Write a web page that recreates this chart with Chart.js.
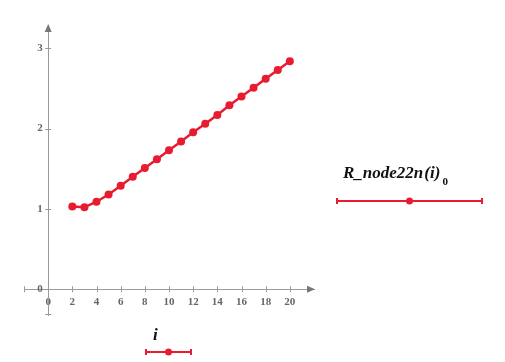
<!DOCTYPE html>
<html>
<head>
<meta charset="utf-8">
<script src="https://cdn.jsdelivr.net/npm/chart.js@4.4.0/dist/chart.umd.min.js"></script>
<style>
  body { margin: 0; background: #fff; }
  #wrap { position: relative; width: 505px; height: 362px; }
  .lbl { position: absolute; font-family: "Liberation Serif", serif; font-weight: bold; font-style: italic; color: #111; white-space: nowrap; }
  .sub { font-size: 11px; font-style: normal; position: relative; top: 7px; margin-left: 2px; }
</style>
</head>
<body>
<div id="wrap">
  <canvas id="myChart" width="505" height="362"></canvas>
  <div class="lbl" style="left:343px; top:163px; font-size:17px;">R_node22n<span style="margin-left:1px;">(</span>i<span>)</span><span class="sub">0</span></div>
  <div class="lbl" style="left:153px; top:325px; font-size:17px;">i</div>
</div>
<script>
// data
const iValues = [2, 3, 4, 5, 6, 7, 8, 9, 10, 11, 12, 13, 14, 15, 16, 17, 18, 19, 20];
const rNode = [1.03, 1.02, 1.09, 1.18, 1.29, 1.40, 1.51, 1.62, 1.73, 1.84, 1.955, 2.06, 2.17, 2.29, 2.40, 2.51, 2.62, 2.73, 2.84];
const xTicks = [0, 2, 4, 6, 8, 10, 12, 14, 16, 18, 20];
const yTicks = [0, 1, 2, 3];

const red = 'rgb(232, 28, 48)';
const axisGray = '#9a9a9a';

// arrows, end caps and crossing tick marks of the axes, plus the legend samples
const axisExtras = {
  id: 'axisExtras',
  afterDraw(chart) {
    const c = chart.ctx;
    const xs = chart.scales.x, ys = chart.scales.y;
    const x0 = xs.getPixelForValue(0), y0 = ys.getPixelForValue(0);
    const area = chart.chartArea;
    c.save();
    c.fillStyle = '#777';
    // x arrow
    c.beginPath();
    c.moveTo(area.right + 1, y0);
    c.lineTo(area.right - 7, y0 - 3.5);
    c.lineTo(area.right - 7, y0 + 3.5);
    c.closePath();
    c.fill();
    // y arrow
    c.beginPath();
    c.moveTo(x0, area.top - 1);
    c.lineTo(x0 - 3.5, area.top + 7);
    c.lineTo(x0 + 3.5, area.top + 7);
    c.closePath();
    c.fill();
    // end caps and ticks
    c.strokeStyle = axisGray;
    c.lineWidth = 1;
    c.beginPath();
    c.moveTo(area.left + 0.5, y0 - 3);
    c.lineTo(area.left + 0.5, y0 + 3);
    c.moveTo(x0 - 3, area.bottom - 0.5);
    c.lineTo(x0 + 3, area.bottom - 0.5);
    xTicks.forEach(v => {
      const px = Math.round(xs.getPixelForValue(v)) + 0.5;
      c.moveTo(px, y0 - 3);
      c.lineTo(px, y0 + 3);
    });
    yTicks.forEach(v => {
      const py = Math.round(ys.getPixelForValue(v)) + 0.5;
      c.moveTo(x0 - 3, py);
      c.lineTo(x0 + 3, py);
    });
    c.stroke();

    // legend samples
    function sample(x1, x2, y) {
      c.strokeStyle = red;
      c.fillStyle = red;
      c.lineWidth = 2;
      c.beginPath();
      c.moveTo(x1, y);
      c.lineTo(x2, y);
      c.moveTo(x1, y - 3);
      c.lineTo(x1, y + 3);
      c.moveTo(x2, y - 3);
      c.lineTo(x2, y + 3);
      c.stroke();
      c.beginPath();
      c.arc((x1 + x2) / 2, y, 3.5, 0, Math.PI * 2);
      c.fill();
    }
    sample(337, 482, 201);
    sample(146, 191, 352);
    c.restore();
  }
};

const tickFont = { family: 'Liberation Serif', size: 11, weight: 'bold' };

const ctx = document.getElementById('myChart');
new Chart(ctx, {
  type: 'line',
  data: {
    datasets: [{
      label: 'R_node22n(i)0',
      data: iValues.map((v, k) => ({ x: v, y: rNode[k] })),
      borderColor: red,
      backgroundColor: red,
      borderWidth: 2.5,
      pointRadius: 4,
      pointBorderWidth: 0,
      tension: 0
    }]
  },
  options: {
    responsive: false,
    animation: false,
    layout: { padding: { left: 24, right: 191, top: 25, bottom: 47 } },
    plugins: { legend: { display: false }, tooltip: { enabled: false } },
    scales: {
      x: {
        type: 'linear',
        position: { y: 0 },
        min: -2,
        max: 22,
        afterBuildTicks: s => { s.ticks = xTicks.map(v => ({ value: v })); },
        grid: { drawOnChartArea: false, drawTicks: true, tickLength: 4, color: 'rgba(0,0,0,0)' },
        border: { display: true, color: axisGray, width: 1 },
        ticks: { color: '#666', padding: 2, font: tickFont, maxRotation: 0 }
      },
      y: {
        type: 'linear',
        position: { x: 0 },
        min: -0.32,
        max: 3.29,
        afterBuildTicks: s => { s.ticks = yTicks.map(v => ({ value: v })); },
        grid: { drawOnChartArea: false, drawTicks: true, tickLength: 4, color: 'rgba(0,0,0,0)' },
        border: { display: true, color: axisGray, width: 1 },
        // labels sit right-aligned on the axis line here, trailing spaces push them left
        ticks: { color: '#666', font: tickFont, callback: v => v + '  ' }
      }
    }
  },
  plugins: [axisExtras]
});
</script>
</body>
</html>
